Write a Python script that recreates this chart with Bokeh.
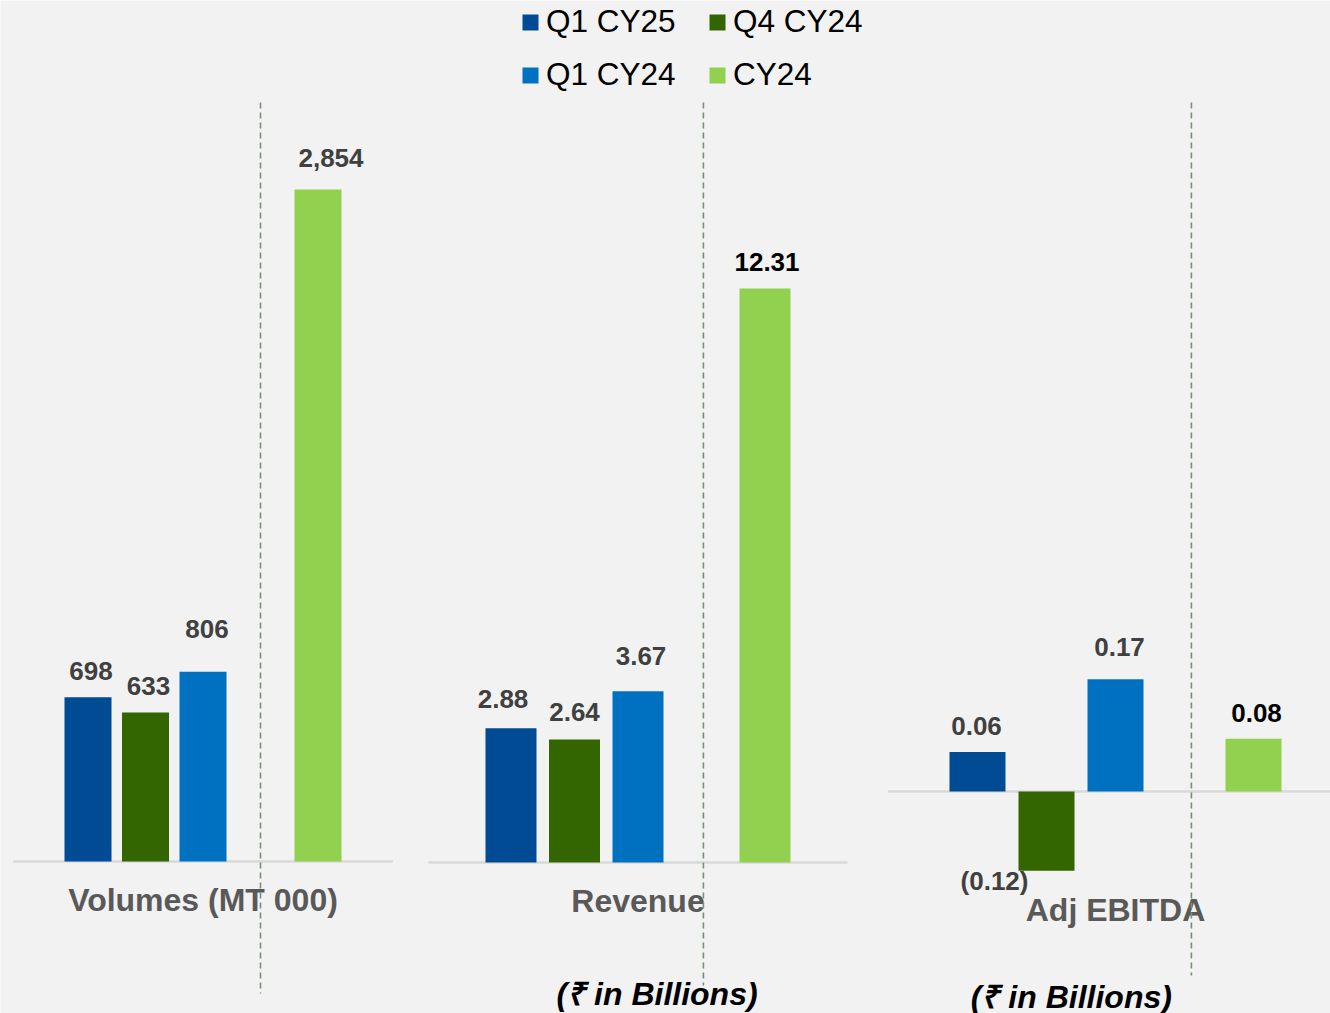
from bokeh.plotting import figure
from bokeh.models import Range1d, Legend, LegendItem, ColumnDataSource
from bokeh.core.properties import value
from bokeh.embed import file_html
from bokeh.resources import INLINE

# ---------------- data ----------------
series = ["Q1 CY25", "Q4 CY24", "Q1 CY24", "CY24"]
colors = ["#004B93", "#336600", "#0070C0", "#92D050"]
slots = [0, 1, 2, 4]

panels = ["Volumes (MT 000)", "Revenue", "Adj EBITDA"]
volumes = [698, 633, 806, 2854]
revenue = [2.88, 2.64, 3.67, 12.31]
ebitda = [0.06, -0.12, 0.17, 0.08]

vol_labels = ["698", "633", "806", "2,854"]
rev_labels = ["2.88", "2.64", "3.67", "12.31"]
ebitda_labels = ["0.06", "(0.12)", "0.17", "0.08"]
unit_note = "(₹ in Billions)"

# ---------------- layout (page pixels) ----------------
W, H = 1330, 1013
OFF = 0
FONT = "Liberation Sans"

# per panel: first bar centre x, slot pitch, baseline y, px per unit, bar width px
layout = [
    dict(x0=87.5, pitch=57.5, base=861, ppu=672 / 2854, bw=47),
    dict(x0=510.5, pitch=63.5, base=862, ppu=574 / 12.31, bw=51),
    dict(x0=977, pitch=69, base=791, ppu=660, bw=56),
]
label_dx = [[3, 3, 4, 13], [-8, 0, 3, 2], [-1, -52, 4, 3]]
label_dy = [[-26, -26, -43, -32], [-29, -27, -35, -27], [-26, 10, -32, -26]]
label_colors = [["#404040"] * 4, ["#404040"] * 3 + ["#000000"], ["#404040"] * 3 + ["#000000"]]
cat_dy = [38, 38, 118]
sep_slot = [3.0, 3.03, 3.1]
sep_y = [(102, 993), (102, 985), (102, 975)]
note = [None, (2.3, 131), (1.36, 205)]

p = figure(width=W, height=H, output_backend="svg", toolbar_location=None,
           x_range=Range1d(OFF, OFF + W), y_range=Range1d(OFF + H, OFF),
           min_border=0)
p.axis.visible = False
p.grid.visible = False
p.outline_line_color = None
p.background_fill_color = "#F2F2F2"
p.border_fill_color = "#F2F2F2"

values = [volumes, revenue, ebitda]
labels = [vol_labels, rev_labels, ebitda_labels]
legend_renderers = []

for i, (L, vals, labs) in enumerate(zip(layout, values, labels)):
    xs = (OFF - L["x0"]) / L["pitch"]
    xe = (OFF + W - L["x0"]) / L["pitch"]
    base_from_bottom = OFF + H - L["base"]
    ys = -base_from_bottom / L["ppu"]
    ye = (H - base_from_bottom) / L["ppu"]
    xn, yn = f"x{i}", f"y{i}"
    p.extra_x_ranges[xn] = Range1d(xs, xe)
    p.extra_y_ranges[yn] = Range1d(ys, ye)

    # baseline
    p.segment(x0=[-1.3], x1=[5.3], y0=[0], y1=[0], line_color="#D9D9D9",
              line_width=2.5, x_range_name=xn, y_range_name=yn)

    src = ColumnDataSource(dict(x=slots, top=vals, color=colors, name=series,
                                lab=labs, dx=label_dx[i], dy=label_dy[i],
                                lc=label_colors[i]))
    rends = []
    for k in range(4):
        r = p.vbar(x=[slots[k]], top=[vals[k]], bottom=0, width=L["bw"] / L["pitch"],
                   fill_color=colors[k], line_color=None,
                   x_range_name=xn, y_range_name=yn)
        rends.append(r)
    if i == 0:
        legend_renderers = rends

    p.text(x="x", y="top", text="lab", x_offset="dx", y_offset="dy", source=src,
           text_align="center", text_baseline="middle", text_color="lc",
           text_font=value(FONT), text_font_style="bold", text_font_size="26px",
           x_range_name=xn, y_range_name=yn)

    # category label
    p.text(x=[2], y=[0], text=[panels[i]], y_offset=cat_dy[i],
           text_align="center", text_baseline="middle", text_color="#595959",
           text_font=value(FONT), text_font_style="bold", text_font_size="32px",
           x_range_name=xn, y_range_name=yn)

    # unit note
    if note[i] is not None:
        nx, ndy = note[i]
        p.text(x=[nx], y=[0], text=[unit_note], y_offset=ndy,
               text_align="center", text_baseline="middle", text_color="#000000",
               text_font=value(FONT), text_font_style="bold italic", text_font_size="32px",
               x_range_name=xn, y_range_name=yn)

    # dashed separator
    p.segment(x0=[sep_slot[i]], x1=[sep_slot[i]], y0=[sep_y[i][0]], y1=[sep_y[i][1]],
              line_color="#7A8F7A", line_width=1.6, line_dash="6 4",
              x_range_name=xn)

# legend fills column by column: order so rows read Q1 CY25 | Q4 CY24, Q1 CY24 | CY24
legend_order = [0, 2, 1, 3]
items = [LegendItem(label=series[k], renderers=[legend_renderers[k]]) for k in legend_order]
legend = Legend(items=items, ncols=2, location=(520, 920),
                glyph_width=20, glyph_height=20, label_standoff=6,
                label_text_font=FONT, label_text_font_size="31.5px",
                label_text_color="#000000", label_height=36, label_width=145,
                spacing=16, padding=0, margin=0, border_line_color=None,
                background_fill_alpha=0)
p.add_layout(legend, "center")

open("out.html", "w").write(file_html(p, INLINE))
